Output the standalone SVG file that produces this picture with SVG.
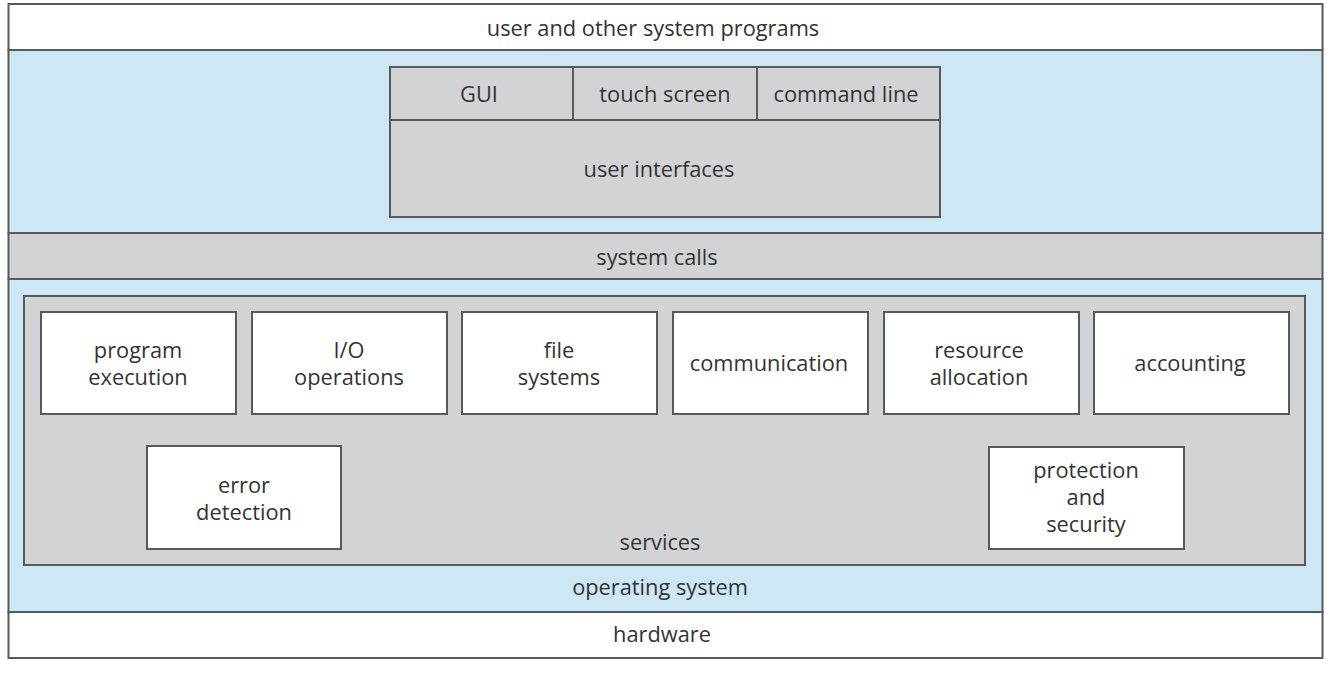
<svg xmlns="http://www.w3.org/2000/svg" width="1332" height="676" viewBox="0 0 1332 676">
<style>
.t{font-family:"Open Sans","Liberation Sans",sans-serif;font-size:21.8px;fill:#333333;text-anchor:middle}
.w{fill:#ffffff;stroke:#58595b;stroke-width:2}
.b{fill:#cde7f5;stroke:#58595b;stroke-width:2}
.g{fill:#d2d3d5;stroke:#58595b;stroke-width:2}
</style>
<rect width="1332" height="676" fill="#ffffff"/>
<g id="user-programs"><rect class="w" x="8.5" y="4" width="1314" height="46"/><text class="t" x="653" y="36">user and other system programs</text></g>
<g id="os"><rect class="b" x="8.5" y="50" width="1314" height="183"/><rect class="b" x="8.5" y="279" width="1314" height="333"/><text class="t" x="660" y="595">operating system</text></g>
<g id="user-interfaces"><rect class="g" x="390" y="67" width="550" height="150"/><line x1="390" y1="120" x2="940" y2="120" stroke="#58595b" stroke-width="2"/><line x1="573" y1="67" x2="573" y2="120" stroke="#58595b" stroke-width="2"/><line x1="757" y1="67" x2="757" y2="120" stroke="#58595b" stroke-width="2"/><text class="t" x="479" y="102">GUI</text><text class="t" x="665" y="102">touch screen</text><text class="t" x="846" y="102">command line</text><text class="t" x="659" y="177">user interfaces</text></g>
<g id="system-calls"><rect class="g" x="8.5" y="233" width="1314" height="46"/><text class="t" x="657" y="265">system calls</text></g>
<g id="services"><rect class="g" x="24" y="296" width="1281" height="269"/><text class="t" x="660" y="550">services</text></g>
<g id="program-execution"><rect class="w" x="41" y="312" width="195" height="102"/><text class="t" x="138" y="358">program</text><text class="t" x="138" y="385">execution</text></g>
<g id="io-operations"><rect class="w" x="252" y="312" width="195" height="102"/><text class="t" x="349" y="358">I/O</text><text class="t" x="349" y="385">operations</text></g>
<g id="file-systems"><rect class="w" x="462" y="312" width="195" height="102"/><text class="t" x="559" y="358">file</text><text class="t" x="559" y="385">systems</text></g>
<g id="communication"><rect class="w" x="673" y="312" width="195" height="102"/><text class="t" x="769" y="371">communication</text></g>
<g id="resource-allocation"><rect class="w" x="884" y="312" width="195" height="102"/><text class="t" x="979" y="358">resource</text><text class="t" x="979" y="385">allocation</text></g>
<g id="accounting"><rect class="w" x="1094" y="312" width="195" height="102"/><text class="t" x="1190" y="371">accounting</text></g>
<g id="error-detection"><rect class="w" x="147" y="446" width="194" height="103"/><text class="t" x="244" y="493">error</text><text class="t" x="244" y="520">detection</text></g>
<g id="protection-security"><rect class="w" x="989" y="447" width="195" height="102"/><text class="t" x="1086" y="478">protection</text><text class="t" x="1086" y="505">and</text><text class="t" x="1086" y="532">security</text></g>
<g id="hardware"><rect class="w" x="8.5" y="612" width="1314" height="46"/><text class="t" x="662" y="642">hardware</text></g>
<g id="connectors"></g>
</svg>
